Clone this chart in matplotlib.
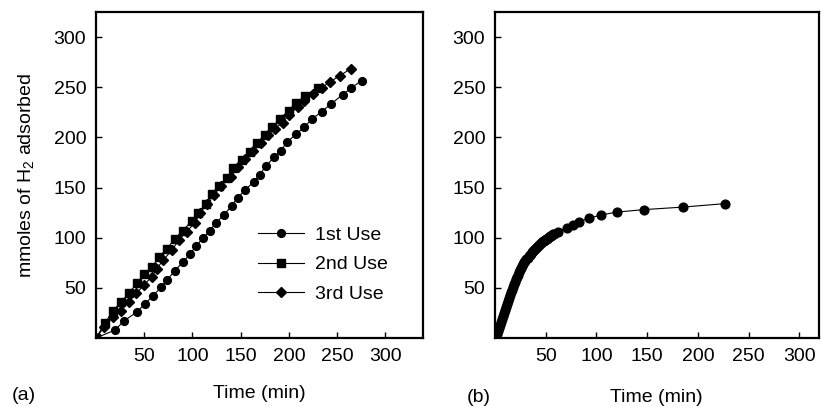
import numpy as np
import matplotlib
matplotlib.use("Agg")
import matplotlib.pyplot as plt

plt.rcParams['font.family'] = ['Liberation Sans', 'DejaVu Sans']
plt.rcParams['mathtext.fontset'] = 'custom'
plt.rcParams['mathtext.rm'] = 'Liberation Sans'
plt.rcParams['mathtext.it'] = 'Liberation Sans'

# (a) trzy kolejne użycia
t_use1 = [0, 19.7, 29, 42.4, 50.7, 59, 67.3, 73.5, 81.6, 90, 97.3, 103.5, 110.7, 118,
          124, 132.5, 140.8, 147, 155, 163.5, 169.8, 176, 184.3, 191.5, 198, 207, 216,
          223.6, 234, 244, 255.7, 265, 275.4]
h_use1 = [0, 8, 17, 26, 34, 42, 50.5, 57.6, 67, 75.5, 83.5, 91.5, 99.4, 107, 114.5,
          122.6, 132, 140, 148, 155.5, 163, 171, 180, 186.7, 195, 203, 210, 218, 225.6,
          233.6, 242.5, 249.5, 256.5]

t_use2 = [0, 9.3, 17.6, 25.9, 34, 42.4, 49.7, 58, 65, 73.5, 81.8, 90, 99.4, 105.6, 114,
          120, 128, 135.6, 142, 151, 159.4, 166.7, 175, 183, 190.5, 200, 207, 217, 230]
h_use2 = [0, 15, 27, 36, 44.7, 54.6, 63.6, 70.6, 80.5, 89, 99, 107, 117, 125, 134, 144,
          152, 160, 169, 177, 185, 194, 202, 210, 218.6, 226.6, 234.5, 241.5, 249.5]

t_use3 = [0, 8.3, 17.6, 25.5, 33.8, 41.7, 49.7, 57.6, 63, 69.4, 78.7, 86, 94, 102.5,
          107.7, 114.9, 122, 130, 139.7, 147, 155, 162.5, 170.8, 178, 185.3, 193.6, 200,
          209, 216, 224.6, 234, 243, 252.6, 264]
h_use3 = [0, 10.9, 20.9, 27, 36, 44.5, 52.7, 61, 69, 77.5, 87.5, 98, 106, 115, 124.4,
          134, 143, 152, 161, 170, 178, 186, 194, 202, 208.5, 214.8, 222.6, 230, 236.6,
          243.5, 249.5, 255.5, 261.4, 268.3]

# (b) pomiar co minutę do ~58 min, potem rzadziej
t_b = [0, 1, 2, 3, 4, 5, 6, 7, 8, 9, 10, 11, 12, 13, 14, 15, 16, 17, 18, 19, 20,
       21, 22, 23, 24, 25, 26, 27, 28, 29, 30, 31, 32, 33, 34, 35, 36, 37, 38, 39, 40,
       41, 42, 43, 44, 45, 46, 47, 48, 49, 50, 51, 52, 53, 54, 55, 56, 57, 58,
       62.4, 70.6, 77, 83, 93, 104, 120, 146.6, 185, 227]
h_b = [0, 1.5, 4, 6.5, 9.5, 12.5, 15.5, 19, 22, 25, 28, 31, 34, 37, 40, 43, 45.5, 48,
       51, 53.5, 56, 58.5, 61, 63, 65.5, 67.5, 69.5, 71.5, 73.5, 75.5, 77, 78.5, 80,
       81.5, 83, 84, 85.5, 86.5, 88, 89, 90, 91, 92, 93, 94, 94.5, 95.5, 96.5, 97,
       97.5, 98.5, 99, 100, 100.5, 101.5, 102, 102.5, 103.5, 104,
       106, 110, 113, 116, 119.5, 122.6, 125.5, 128, 130.5, 134]

ticks = [50, 100, 150, 200, 250, 300]
FS = 14

fig = plt.figure(figsize=(8.21, 4.07), dpi=100)
ax1 = fig.add_axes([0.117, 0.1695, 0.398, 0.801])
ax2 = fig.add_axes([0.603, 0.1695, 0.394, 0.801])

kw = dict(color='black', lw=0.8, markersize=5.6)
ax1.plot(t_use1, h_use1, marker='o', label='1st Use', **kw)
ax1.plot(t_use2, h_use2, marker='s', label='2nd Use', **kw)
ax1.plot(t_use3, h_use3, marker='D', label='3rd Use', **kw)
ax2.plot(t_b, h_b, marker='o', color='black', lw=0.8, markersize=6.3)

for ax, xmax in ((ax1, 339), (ax2, 319)):
    ax.set_xlim(0, xmax)
    ax.set_ylim(0, 325)
    ax.set_xticks(ticks)
    ax.set_yticks(ticks)
    ax.tick_params(direction='in', length=4, width=1, labelsize=FS, pad=7)
    for s in ax.spines.values():
        s.set_linewidth(1.6)

ax1.set_xlabel('Time (min)', fontsize=FS)
ax1.xaxis.set_label_coords(0.5, -0.144)
ax1.set_ylabel('mmoles of H$_2$ adsorbed', fontsize=FS)
ax1.yaxis.set_label_coords(-0.185, 0.5)
ax2.set_xlabel('Time (min)', fontsize=FS)
ax2.xaxis.set_label_coords(0.5, -0.157)

ax1.legend(loc='upper left', bbox_to_anchor=(0.465, 0.372), frameon=False, fontsize=FS,
           handlelength=2.4, handletextpad=0.55, labelspacing=0.6, borderpad=0)

fig.text(12 / 821, 1 - 395 / 407, '(a)', fontsize=FS, va='center')
fig.text(467 / 821, 1 - 397 / 407, '(b)', fontsize=FS, va='center')

fig.savefig('out.png', dpi=100)
